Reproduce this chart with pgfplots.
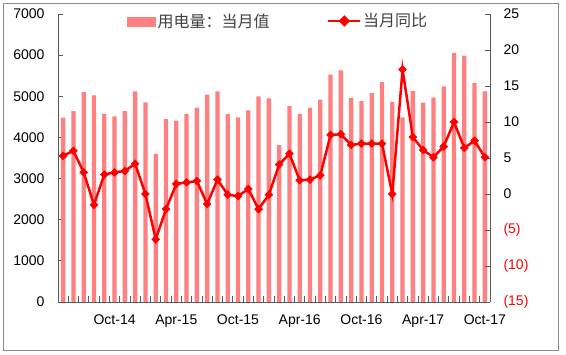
\documentclass[border=0pt]{standalone}
\usepackage{fontspec}
\setmainfont{Liberation Sans}
\newfontfamily\cjk{Noto Sans CJK SC}
\usepackage{pgfplots}
\pgfplotsset{compat=1.18}
\usepackage{pgfplotstable}
\definecolor{barred}{HTML}{FF8080}
\definecolor{linered}{HTML}{FF0000}
\definecolor{axgray}{HTML}{595959}
\definecolor{txtgray}{HTML}{404040}
\pgfplotstableread{
x bar yoy
0 4480 5.3
1 4640 6.0
2 5100 3.0
3 5020 -1.5
4 4565 2.7
5 4510 3.0
6 4640 3.2
7 5120 4.2
8 4855 0.0
9 3600 -6.3
10 4445 -2.1
11 4410 1.4
12 4565 1.6
13 4725 1.8
14 5040 -1.4
15 5120 2.0
16 4565 -0.1
17 4490 -0.3
18 4655 0.7
19 5000 -2.1
20 4950 -0.1
21 3815 4.1
22 4760 5.6
23 4565 1.9
24 4725 2.0
25 4920 2.6
26 5525 8.2
27 5630 8.3
28 4960 6.8
29 4880 7.0
30 5075 7.0
31 5345 7.0
32 4865 0.0
33 4485 17.3
34 5130 7.9
35 4845 6.1
36 4970 5.1
37 5240 6.6
38 6055 10.0
39 5990 6.4
40 5325 7.4
41 5120 5.1
}\datatable
\pgfplotsset{
  barlegend/.style={legend image code/.code={\fill[barred] (0bp,-5bp) rectangle (29bp,5bp);}},
  linelegend/.style={legend image code/.code={%
    \draw[linered, line width=2.5bp] (0bp,0bp) -- (32bp,0bp);
    \fill[linered] (16bp,4bp) -- (20bp,0bp) -- (16bp,-4bp) -- (12bp,0bp) -- cycle;}},
}
\begin{document}
\begin{tikzpicture}
\useasboundingbox (-58bp,-53bp) rectangle (508bp,302bp);
\draw[color=gray!90, line width=0.8bp] (-55bp,-48bp) rectangle (500bp,299bp);
\pgfplotsset{
  every axis/.append style={
    scale only axis, width=432bp, height=288bp,
    xmin=-0.5, xmax=41.5,
    tick style={color=axgray, line width=0.8bp},
    axis line style={color=axgray, line width=0.8bp},
    tick align=inside,
    major tick length=5bp, minor tick length=5.5bp,
    tick label style={font=\fontsize{14bp}{16bp}\selectfont, text=black},
    /pgf/number format/assume math mode=true,
    /pgf/number format/1000 sep={},
    scaled y ticks=false,
  }
}
\begin{axis}[
  at={(0,0)}, anchor=south west,
  axis y line*=left, axis x line*=bottom,
  ymin=0, ymax=7000,
  ytick={0,1000,...,7000},
  yticklabel style={xshift=-10bp},
  xtick={5,11,17,23,29,35,41},
  xticklabels={Oct-14,Apr-15,Oct-15,Apr-16,Oct-16,Apr-17,Oct-17},
  major x tick style={draw=none},
  minor xtick={-0.5,0.5,...,41.5},
  xticklabel style={yshift=-9bp},
  legend style={at={(rel axis cs:0.1597,0.9722)}, anchor=west, draw=none, fill=none,
    inner sep=0pt, font=\fontsize{16bp}{18bp}\selectfont\cjk, text=txtgray,
    nodes={inner sep=1.5bp}},
]
\addplot[ybar, bar width=0.42, fill=barred, draw=none, barlegend]
  table[x=x, y=bar] {\datatable};
\addlegendentry{用电量：当月值}
\end{axis}
\begin{axis}[
  at={(0,0)}, anchor=south west,
  axis y line*=right, axis x line=none,
  ymin=-15, ymax=25,
  ytick={-15,-10,...,25},
  yticklabels={\textcolor{linered}{(15)},\textcolor{linered}{(10)},\textcolor{linered}{(5)},0,5,10,15,20,25},
  yticklabel style={xshift=10bp, anchor=west},
  legend style={at={(rel axis cs:0.6227,0.9757)}, anchor=west, draw=none, fill=none,
    inner sep=0pt, font=\fontsize{16bp}{18bp}\selectfont\cjk, text=txtgray,
    nodes={inner sep=1.5bp}},
]
\addplot[color=linered, line width=2.5bp, mark=square*, mark size=2.8bp,
  mark options={rotate=45, solid, fill=linered, line width=0.5bp}, linelegend]
  table[x=x, y=yoy] {\datatable};
\addlegendentry{当月同比}
\end{axis}
\end{tikzpicture}
\end{document}
